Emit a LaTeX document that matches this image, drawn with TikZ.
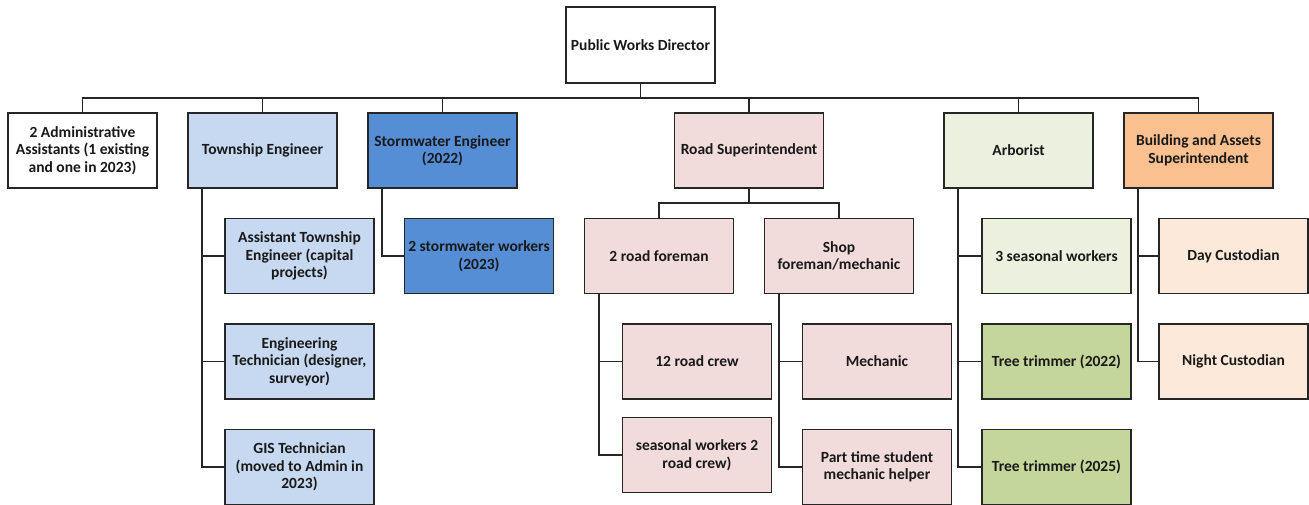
\documentclass[tikz,border=0pt]{standalone}
\usepackage{fontspec}
\setmainfont{Carlito}
\definecolor{engblue}{HTML}{C6D9F1}
\definecolor{stormblue}{HTML}{558ED5}
\definecolor{roadpink}{HTML}{F2DCDB}
\definecolor{arbgreen}{HTML}{EBF1DE}
\definecolor{treegreen}{HTML}{C3D69B}
\definecolor{bldorange}{HTML}{FAC090}
\definecolor{custpeach}{HTML}{FDE9D9}
\begin{document}
\begin{tikzpicture}[x=1pt,y=-1pt,
    box/.style={draw=black!85,line width=1.6pt,minimum width=149pt,minimum height=75pt,
      inner sep=0pt,align=center,text=black!90,font=\fontsize{15.5}{17.5}\selectfont\bfseries},
    link/.style={draw=black!85,line width=1.6pt}]
  \useasboundingbox (0,0) rectangle (1309,505);

  % Director and the bus under it.
  \node[box,fill=white,minimum height=76pt] (dir) at (640.5,45) {Public Works Director};
  \coordinate (bus) at (640.5,98);

  % Heads of division.
  \node[box,fill=white] (admin) at (82.5,150.5) {2 Administrative\\Assistants (1 existing\\and one in 2023)};
  \node[box,fill=engblue] (te) at (262.5,150.5) {Township Engineer};
  \node[box,fill=stormblue] (se) at (442.5,150.5) {Stormwater Engineer\\(2022)};
  \node[box,fill=roadpink] (rs) at (749,150.5) {Road Superintendent};
  \node[box,fill=arbgreen] (arb) at (1018.5,150.5) {Arborist};
  \node[box,fill=bldorange] (bas) at (1198.5,150.5) {Building and Assets\\Superintendent};

  \foreach \n in {admin,te,se,rs,arb,bas}
    \draw[link] (\n.north) |- (bus) -- (dir.south);

  % Engineering staff.
  \node[box,fill=engblue] (ate) at (299.5,256) {Assistant Township\\Engineer (capital\\projects)};
  \node[box,fill=engblue] (et) at (299.5,361.5) {Engineering\\Technician (designer,\\surveyor)};
  \node[box,fill=engblue] (gis) at (299.5,467) {GIS Technician\\(moved to Admin in\\2023)};
  \node[box,fill=stormblue] (sw) at (479,256) {2 stormwater workers\\(2023)};

  % Road division.
  \coordinate (rbus) at (749,203);
  \node[box,fill=roadpink] (rf) at (659,256) {2 road foreman};
  \node[box,fill=roadpink] (sf) at (839,256) {Shop\\foreman/mechanic};
  \draw[link] (rf.north) |- (rbus) -- (rs.south);
  \draw[link] (sf.north) |- (rbus);
  \node[box,fill=roadpink] (rc) at (697,361.5) {12 road crew};
  \node[box,fill=roadpink] (swk) at (697,455) {seasonal workers 2\\road crew)};
  \node[box,fill=roadpink] (mech) at (877,361.5) {Mechanic};
  \node[box,fill=roadpink] (pts) at (877,467) {Part time student\\mechanic helper};

  % Trees and buildings.
  \node[box,fill=arbgreen] (ssw) at (1056.5,256) {3 seasonal workers};
  \node[box,fill=treegreen] (tt1) at (1056.5,361.5) {Tree trimmer (2022)};
  \node[box,fill=treegreen] (tt2) at (1056.5,467) {Tree trimmer (2025)};
  \node[box,fill=custpeach] (dc) at (1233.5,256) {Day Custodian};
  \node[box,fill=custpeach] (nc) at (1233.5,361.5) {Night Custodian};

  % Side rails down to each report.
  \foreach \p/\c in {te/ate,te/et,te/gis,se/sw,rf/rc,rf/swk,sf/mech,sf/pts,
                     arb/ssw,arb/tt1,arb/tt2,bas/dc,bas/nc}
    \draw[link] ([xshift=15pt]\p.south west) |- (\c.west);
\end{tikzpicture}
\end{document}
